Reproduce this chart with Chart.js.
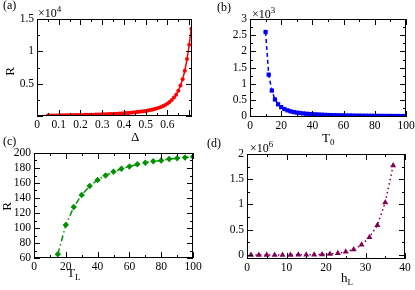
<!DOCTYPE html>
<html>
<head>
<meta charset="utf-8">
<script src="https://cdn.jsdelivr.net/npm/chart.js@4.4.1/dist/chart.umd.min.js"></script>
<style>
body { margin: 0; background: #fff; }
#wrap { position: relative; width: 415px; height: 290px; font-family: 'Liberation Serif', serif; color: #000; }
canvas { position: absolute; }
.t { position: absolute; font-size: 13px; line-height: 1; white-space: nowrap; }
.t sub { font-size: 9px; vertical-align: -3px; line-height: 0; }
.t sup { font-size: 9px; vertical-align: 5px; line-height: 0; }
.m { font-size: 12px; }
.p { font-size: 12px; }
.rot { transform: rotate(-90deg); transform-origin: center; }
</style>
</head>
<body>
<div id="wrap">
  <canvas id="ca" width="207" height="145" style="left:0;top:0"></canvas>
  <canvas id="cb" width="208" height="145" style="left:207px;top:0"></canvas>
  <canvas id="cc" width="207" height="145" style="left:0;top:145px"></canvas>
  <canvas id="cd" width="208" height="145" style="left:207px;top:145px"></canvas>

  <div class="t p" style="left:3px;top:-1px">(a)</div>
  <div class="t p" style="left:217px;top:1px">(b)</div>
  <div class="t p" style="left:3px;top:135px">(c)</div>
  <div class="t p" style="left:207px;top:137px">(d)</div>

  <div class="t m" style="left:38px;top:7px">&times;10<sup>4</sup></div>
  <div class="t m" style="left:252px;top:8px">&times;10<sup>3</sup></div>
  <div class="t m" style="left:250px;top:142px">&times;10<sup>6</sup></div>

  <div class="t rot" style="left:5px;top:65px">R</div>
  <div class="t" style="left:131px;top:130px">&Delta;</div>
  <div class="t" style="left:322px;top:131px">T<sub>0</sub></div>
  <div class="t rot" style="left:2px;top:200px">R</div>
  <div class="t" style="left:67px;top:266px">T<sub>L</sub></div>
  <div class="t" style="left:341px;top:271px">h<sub>L</sub></div>
</div>
<script>
// (a) R vs Delta
const deltaVals = [0.05, 0.06, 0.07, 0.08, 0.09, 0.10, 0.11, 0.12, 0.13, 0.14,
  0.15, 0.16, 0.17, 0.18, 0.19, 0.20, 0.21, 0.22, 0.23, 0.24,
  0.25, 0.26, 0.27, 0.28, 0.29, 0.30, 0.31, 0.32, 0.33, 0.34,
  0.35, 0.36, 0.37, 0.38, 0.39, 0.40, 0.41, 0.42, 0.43, 0.44,
  0.45, 0.46, 0.47, 0.48, 0.49, 0.50, 0.51, 0.52, 0.53, 0.54,
  0.55, 0.56, 0.57, 0.58, 0.59, 0.60, 0.61, 0.62, 0.63, 0.64,
  0.65, 0.66, 0.67, 0.68, 0.69, 0.70, 0.71];
const rDelta = [80, 84, 88, 92, 96, 100, 105, 110, 115, 120,
  126, 132, 138, 144, 151, 158, 166, 174, 182, 191,
  200, 210, 220, 231, 242, 254, 267, 280, 294, 309,
  325, 342, 360, 379, 400, 422, 446, 472, 500, 531,
  564, 600, 640, 684, 732, 785, 845, 910, 985, 1070,
  1165, 1275, 1400, 1550, 1720, 1930, 2180, 2480, 2850, 3300,
  3900, 4700, 5700, 7000, 8800, 11000, 13500];

// (b) R vs T0
const t0Vals = [10, 12, 14, 16, 18, 20, 22, 24, 26, 28, 30, 32, 34, 36, 38, 40,
  42, 44, 46, 48, 50, 52, 54, 56, 58, 60, 62, 64, 66, 68, 70,
  72, 74, 76, 78, 80, 82, 84, 86, 88, 90, 92, 94, 96, 98, 100];
const rT0 = [2600, 1285, 795, 520, 372, 283, 225, 185, 155, 132, 115, 102, 90, 81, 73, 66,
  60, 55, 50, 46, 42, 39, 36, 33, 31, 29, 27, 25, 23.5, 22, 20.5,
  19, 18, 17, 16, 15, 14, 13.3, 12.6, 12, 11.4, 10.8, 10.3, 9.8, 9.4, 9];

// (c) R vs TL
const tlVals = [15, 20, 25, 30, 35, 40, 45, 50, 55, 60, 65, 70, 75, 80, 85, 90, 95, 100];
const rTL = [65, 104, 128, 144, 156, 164, 170, 175, 179, 182, 185, 187, 189, 190, 192, 193, 194, 195];

// (d) R vs hL
const hlVals = [1, 3, 5, 7, 9, 11, 13, 15, 17, 19, 21, 23, 25, 27, 29, 31, 33, 35, 37];
const rHL = [100, 150, 250, 400, 700, 1200, 2000, 3500, 6000, 11000, 19000, 34000,
  65000, 110000, 200000, 350000, 590000, 1040000, 1770000];

const FONT = { family: "'Liberation Serif', serif", size: 11.5 };

// frame box with inward major/minor ticks on all four sides
const frameTicks = {
  id: 'frameTicks',
  afterDatasetsDraw(chart, args, opts) {
    const { ctx, chartArea: a, scales: { x, y } } = chart;
    ctx.save();
    ctx.strokeStyle = '#000';
    ctx.lineWidth = 1;
    ctx.strokeRect(Math.round(a.left) + 0.5, Math.round(a.top) + 0.5,
      Math.round(a.right - a.left) - 1, Math.round(a.bottom - a.top) - 1);
    ctx.beginPath();
    const marks = (scale, major, minor, start) => {
      const out = [];
      const n = Math.floor((scale.max - start) / minor + 1e-6);
      for (let i = 0; i <= n; i++) {
        const v = start + i * minor;
        const r = (v - start) / major;
        out.push([Math.round(scale.getPixelForValue(v)) + 0.5, Math.abs(r - Math.round(r)) < 1e-6 ? 6 : 3]);
      }
      return out;
    };
    marks(x, opts.xMajor, opts.xMinor, opts.xStart).forEach(([px, len]) => {
      ctx.moveTo(px, a.bottom); ctx.lineTo(px, a.bottom - len);
      ctx.moveTo(px, a.top); ctx.lineTo(px, a.top + len);
    });
    marks(y, opts.yMajor, opts.yMinor, opts.yStart).forEach(([py, len]) => {
      ctx.moveTo(a.left, py); ctx.lineTo(a.left + len, py);
      ctx.moveTo(a.right, py); ctx.lineTo(a.right - len, py);
    });
    ctx.stroke();
    ctx.restore();
  }
};

// explicit tick list starting at a given value (so axes with a negative min still label from 0)
function tickList(start, step) {
  return s => {
    const t = [];
    for (let i = 0; ; i++) {
      const v = +(start + i * step).toFixed(6);
      if (v > s.max + 1e-9) break;
      t.push({ value: v });
    }
    s.ticks = t;
  };
}

function makeChart(id, xs, ys, ds, sc, pad, yWidth) {
  const points = xs.map((v, i) => ({ x: v, y: ys[i] }));
  const tk = sc.ticks;
  return new Chart(document.getElementById(id), {
    type: 'scatter',
    data: {
      datasets: [Object.assign({
        data: points,
        showLine: true,
        borderWidth: 1.5,
        pointBorderWidth: 0
      }, ds)]
    },
    options: {
      responsive: false,
      animation: false,
      events: [],
      layout: { padding: pad },
      plugins: {
        legend: { display: false },
        tooltip: { enabled: false },
        frameTicks: tk
      },
      scales: {
        x: {
          type: 'linear',
          min: sc.xMin, max: sc.xMax,
          grid: { display: false, drawTicks: false },
          border: { display: false },
          afterBuildTicks: tickList(tk.xStart, tk.xMajor),
          ticks: {
            autoSkip: false, maxRotation: 0, padding: 2, color: '#000', font: FONT,
            callback: sc.xLabel
          },
          afterFit: s => { s.height = 20; s.paddingLeft = 0; s.paddingRight = 0; }
        },
        y: {
          type: 'linear',
          min: sc.yMin, max: sc.yMax,
          grid: { display: false, drawTicks: false },
          border: { display: false },
          afterBuildTicks: tickList(tk.yStart, tk.yMajor),
          ticks: {
            autoSkip: false, padding: 3, color: '#000', font: FONT,
            callback: sc.yLabel
          },
          afterFit: s => { s.width = yWidth; s.paddingTop = 0; s.paddingBottom = 0; }
        }
      }
    },
    plugins: [frameTicks]
  });
}

// (a)
makeChart('ca', deltaVals, rDelta, {
  borderColor: '#ff0000', backgroundColor: '#ff0000',
  pointStyle: 'circle', pointRadius: 2
}, {
  xMin: 0, xMax: 0.713, yMin: 0, yMax: 15000,
  ticks: { xMajor: 0.1, xMinor: 0.05, xStart: 0, yMajor: 5000, yMinor: 2500, yStart: 0 },
  xLabel: v => (Math.abs(v - 0.7) < 1e-6 ? '' : (v === 0 ? '0' : v.toFixed(1))),
  yLabel: v => (v === 0 ? '' : String(v / 10000))
}, { left: 0, top: 19, right: 15, bottom: 9 }, 37);

// (b)
makeChart('cb', t0Vals, rT0, {
  borderColor: '#0000ff', backgroundColor: '#0000ff',
  borderDash: [4, 3], pointStyle: 'rect', pointRadius: 3
}, {
  xMin: 0, xMax: 100, yMin: -20, yMax: 3000,
  ticks: { xMajor: 20, xMinor: 10, xStart: 0, yMajor: 500, yMinor: 250, yStart: 0 },
  xLabel: v => String(v),
  yLabel: v => String(v / 1000)
}, { left: 0, top: 19, right: 9, bottom: 8 }, 43);

// (c)
makeChart('cc', tlVals, rTL, {
  borderColor: '#009000', backgroundColor: '#009000',
  borderDash: [6, 3, 1.5, 3], pointStyle: 'rectRot', pointRadius: 3.2
}, {
  xMin: 0, xMax: 100, yMin: 60, yMax: 200,
  ticks: { xMajor: 20, xMinor: 10, xStart: 0, yMajor: 20, yMinor: 10, yStart: 60 },
  xLabel: v => String(v),
  yLabel: v => String(v)
}, { left: 0, top: 8, right: 14, bottom: 12 }, 34);

// (d)
makeChart('cd', hlVals, rHL, {
  borderColor: '#800055', backgroundColor: '#800055',
  borderDash: [1.5, 3], pointStyle: 'triangle', pointRadius: 3.5
}, {
  xMin: 0, xMax: 40, yMin: -80000, yMax: 2000000,
  ticks: { xMajor: 10, xMinor: 5, xStart: 0, yMajor: 500000, yMinor: 250000, yStart: 0 },
  xLabel: v => String(v),
  yLabel: v => String(v / 1000000)
}, { left: 0, top: 9, right: 10, bottom: 11 }, 40);
</script>
</body>
</html>
